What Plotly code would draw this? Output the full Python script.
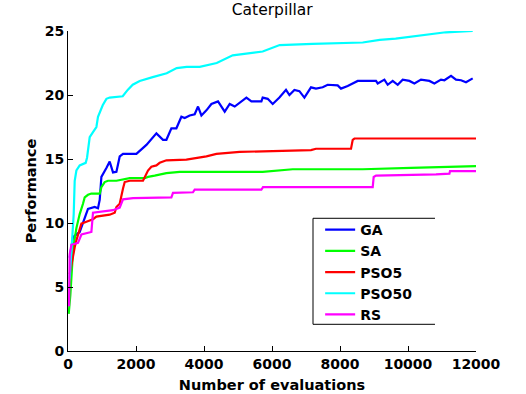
import plotly.graph_objects as go

# GA
ga_x = [50, 147, 344, 491, 588, 785, 882, 932, 982, 1129, 1226, 1324, 1424, 1521, 1618, 2012, 2306, 2600, 2794, 2894,
        3041, 3188, 3335, 3432, 3579, 3726, 3824, 3924, 4071, 4218, 4412, 4609, 4756, 4903, 5247, 5394, 5688, 5726,
        5874, 6021, 6218, 6412, 6512, 6659, 6806, 6953, 7147, 7294, 7491, 7638, 7932, 8029, 8226, 8521, 9059, 9109,
        9306, 9403, 9550, 9697, 9844, 10041, 10188, 10382, 10629, 10776, 10971, 11071, 11265, 11412, 11559, 11706, 11903]
ga_y = [7.3, 8.9, 9.3, 10.3, 11.1, 11.25, 11.15, 11.8, 13.6, 14.3, 14.8, 13.95, 14.0, 15.2, 15.4, 15.4, 16.1, 17.0, 16.5, 16.5,
        17.4, 17.4, 18.3, 18.2, 18.4, 18.5, 19.1, 18.4, 18.8, 19.3, 19.5, 18.7, 19.3, 19.1, 19.8, 19.5, 19.5, 19.8,
        19.7, 19.3, 19.8, 20.4, 20.0, 20.4, 20.3, 19.8, 20.6, 20.5, 20.6, 20.8, 20.75, 20.5, 20.7, 21.1, 21.1, 20.9,
        21.2, 20.8, 21.1, 20.8, 21.2, 21.1, 20.9, 21.2, 21.1, 20.9, 21.2, 21.15, 21.5, 21.2, 21.15, 21.0, 21.3]

# SA
sa_x = [20, 70, 129, 168, 247, 344, 441, 491, 588, 688, 932, 982, 1079, 1176, 1424, 1815, 2256, 2353, 2550, 2894,
        3285, 5726, 6609, 8668, 10088, 11412, 12000]
sa_y = [2.9, 4.4, 7.0, 8.3, 9.6, 10.7, 11.5, 12.0, 12.2, 12.3, 12.3, 12.8, 13.2, 13.3, 13.3, 13.5, 13.5, 13.6, 13.7, 13.9,
        14.0, 14.0, 14.2, 14.2, 14.3, 14.4, 14.45]

# PSO5
pso5_x = [50, 100, 197, 247, 344, 394, 541, 735, 835, 1029, 1226, 1374, 1424, 1521, 1571, 1618, 1668, 1815, 2206, 2256,
          2353, 2453, 2600, 2697, 2894, 3482, 4071, 4365, 5050, 5735, 7147, 7294, 8324, 8374, 8424, 12000]
pso5_y = [6.0, 6.8, 8.1, 8.65, 9.6, 9.95, 10.1, 10.3, 10.5, 10.6, 10.65, 10.8, 11.25, 11.5, 12.3, 12.7, 13.2, 13.3, 13.3, 13.6,
          14.1, 14.4, 14.5, 14.7, 14.9, 14.95, 15.2, 15.4, 15.55, 15.6, 15.7, 15.8, 15.8, 16.5, 16.6, 16.6]

# PSO50
pso50_x = [50, 100, 129, 168, 197, 247, 344, 441, 520, 560, 638, 735, 835, 882, 932, 1021, 1129, 1226, 1609, 1756,
           1903, 2109, 2491, 2903, 3197, 3491, 3874, 4374, 4844, 5344, 5726, 6226, 6697, 7197, 8668, 9168, 9638,
           10638, 11109, 11903]
pso50_y = [5.66, 7.87, 9.2, 10.7, 13.3, 14.1, 14.5, 14.6, 14.7, 15.1, 16.7, 17.1, 17.5, 18.3, 18.6, 19.2, 19.7, 19.8, 19.9, 20.4,
           20.8, 21.1, 21.4, 21.7, 22.1, 22.2, 22.2, 22.5, 23.1, 23.3, 23.4, 23.9, 23.96, 24.0, 24.1, 24.3, 24.4,
           24.7, 24.9, 25.0]

# RS
rs_x = [30, 50, 100, 294, 394, 688, 735, 1324, 1521, 1618, 1912, 3041, 3088, 3676, 3726, 5688, 5735, 8962, 8991, 9059,
        10824, 11218, 11235, 12000]
rs_y = [3.5, 7.55, 8.3, 8.45, 9.1, 9.3, 10.8, 11.0, 11.2, 11.85, 11.95, 12.0, 12.35, 12.4, 12.6, 12.6, 12.8, 12.8, 13.6, 13.7,
        13.8, 13.85, 14.05, 14.05]

x_ticks = [0, 2000, 4000, 6000, 8000, 10000, 12000]
y_ticks = [0, 5, 10, 15, 20, 25]

series = [
    ("GA", ga_x, ga_y, "#0000FF"),
    ("SA", sa_x, sa_y, "#00FF00"),
    ("PSO5", pso5_x, pso5_y, "#FF0000"),
    ("PSO50", pso50_x, pso50_y, "#00FFFF"),
    ("RS", rs_x, rs_y, "#FF00FF"),
]

fig = go.Figure()
for name, xs, ys, col in series:
    fig.add_trace(go.Scatter(x=xs, y=ys, mode="lines", name=f"<b>{name}</b>",
                             line=dict(color=col, width=2.2)))

bold = "DejaVu Sans"
# legend frame (open on the right, as in the reference)
fig.add_shape(type="rect", xref="paper", yref="paper", x0=0.6005, x1=0.8995, y0=0.0834, y1=0.4147,
              line=dict(width=0), fillcolor="white", layer="above")
fig.add_shape(type="path", xref="paper", yref="paper",
              path="M 0.8995 0.4147 L 0.6005 0.4147 L 0.6005 0.0834 L 0.8995 0.0834",
              line=dict(color="black", width=1), fillcolor="rgba(0,0,0,0)", layer="above")

fig.update_layout(
    width=526, height=394,
    margin=dict(l=68, r=50, t=31, b=43),
    paper_bgcolor="white", plot_bgcolor="white",
    font=dict(family=bold, color="black"),
    title=dict(text="Caterpillar", x=0.5175, xanchor="center", y=0.975, yanchor="middle",
               font=dict(family="DejaVu Sans", size=15.5, color="black")),
    xaxis=dict(range=[0, 12000], tickvals=x_ticks, ticktext=[f"<b>{v}</b>" for v in x_ticks],
               showline=True, linecolor="black", linewidth=1, mirror=False, automargin=False,
               ticks="inside", ticklen=5, tickcolor="black", showgrid=False, zeroline=False,
               tickfont=dict(family=bold, size=14, color="black"),
               title=dict(text="<b>Number of evaluations</b>", font=dict(family=bold, size=14.5), standoff=9)),
    yaxis=dict(range=[0, 25], tickvals=y_ticks, ticktext=[f"<b>{v}</b>" for v in y_ticks],
               showline=True, linecolor="black", linewidth=1, mirror=False, automargin=False,
               ticks="inside", ticklen=5, tickcolor="black", showgrid=False, zeroline=False,
               tickfont=dict(family=bold, size=14, color="black"),
               title=dict(text="<b>Performance</b>", font=dict(family=bold, size=14.5), standoff=4)),
    legend=dict(x=0.618, y=0.428, xanchor="left", yanchor="top",
                bgcolor="rgba(0,0,0,0)", borderwidth=0,
                font=dict(family=bold, size=14, color="black"),
                itemwidth=30),
    showlegend=True,
)

fig.write_html("out.html", config={"displayModeBar": False},
               post_script="document.body.style.margin='0px';")
